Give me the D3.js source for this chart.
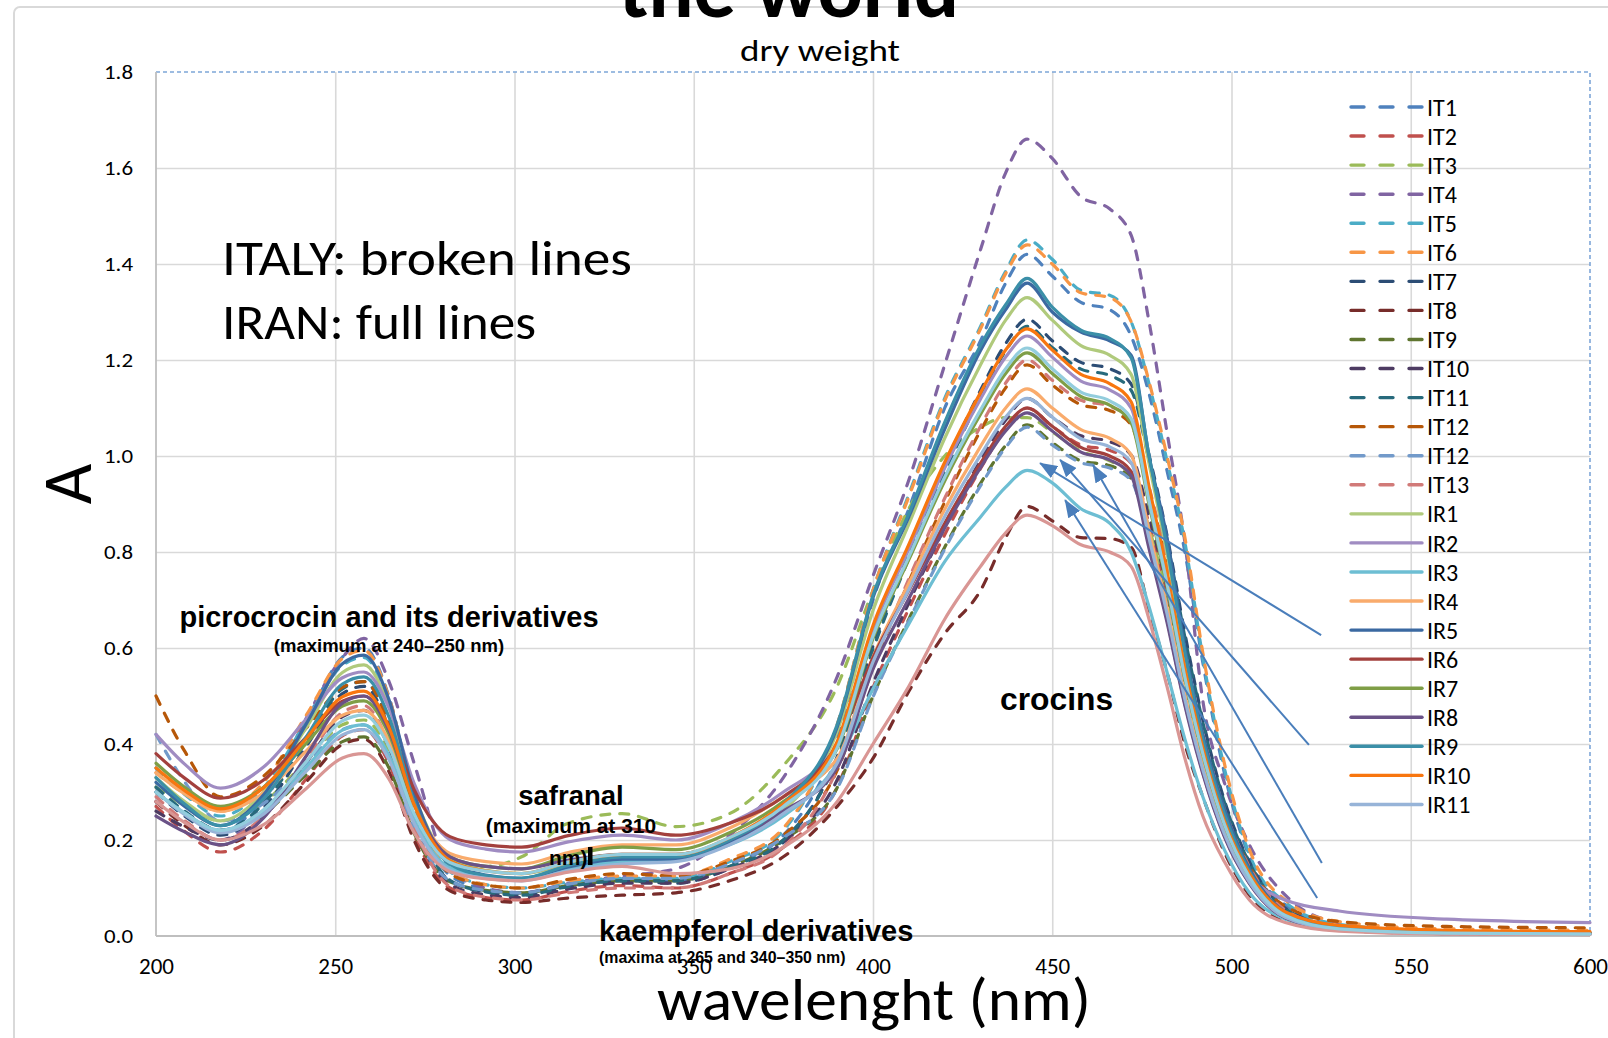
<!DOCTYPE html>
<html>
<head>
<meta charset="utf-8">
<script src="https://cdn.jsdelivr.net/npm/d3@7"></script>
<style>
  body { margin: 0; background: #fff; }
  svg { display: block; }
  .calib { font-family: Carlito, Lato, "Open Sans", sans-serif; fill: #000; }
  .note { font-family: "Liberation Sans", Arial, sans-serif; font-weight: bold; fill: #000; }
</style>
</head>
<body>
<script>
// wavelength grid (nm) the values below were read at
const wavelengths = [200, 208, 218, 230, 242, 252, 258, 265, 272, 282, 292, 302, 315, 330, 345, 360, 375, 390, 400, 410,
                     420, 430, 437, 443, 450, 458, 466, 472, 477, 482, 487, 492, 498, 505, 515, 530, 560, 600];

// Italian samples (broken lines)
const IT1  = [.30,.256,.22,.288,.448,.581,.60,.498,.284,.126,.098,.09,.108,.12,.115,.15,.21,.41,.70,.89,1.10,1.24,1.36,1.42,1.375,1.32,1.305,1.25,1.13,.97,.80,.57,.34,.165,.065,.022,.01,.007];
const IT2  = [.27,.218,.175,.221,.328,.417,.43,.359,.21,.10,.08,.075,.093,.105,.10,.13,.185,.31,.517,.682,.836,.974,1.056,1.10,1.062,1.023,1.012,.985,.858,.715,.539,.385,.242,.132,.05,.017,.007,.005];
const IT3  = [.31,.272,.24,.278,.366,.44,.45,.386,.252,.155,.145,.165,.235,.255,.228,.255,.355,.52,.72,.89,1.0,1.06,1.08,1.08,1.05,1.01,.99,.96,.85,.71,.54,.385,.24,.13,.048,.016,.007,.005];
const IT4  = [.28,.236,.20,.277,.455,.58,.62,.53,.36,.14,.10,.09,.11,.125,.14,.21,.33,.54,.75,.95,1.19,1.43,1.59,1.66,1.62,1.54,1.515,1.46,1.28,1.05,.82,.49,.32,.19,.085,.028,.012,.008];
const IT5  = [.35,.295,.25,.309,.448,.564,.58,.484,.282,.134,.107,.10,.112,.12,.12,.155,.22,.44,.72,.92,1.12,1.27,1.385,1.45,1.41,1.345,1.335,1.28,1.15,.99,.82,.58,.35,.17,.07,.024,.01,.007];
const IT6  = [.34,.296,.26,.32,.461,.578,.595,.496,.288,.135,.107,.10,.115,.125,.125,.16,.225,.44,.72,.915,1.115,1.265,1.38,1.44,1.40,1.34,1.33,1.28,1.155,1.0,.83,.59,.36,.18,.075,.03,.015,.012];
const IT7  = [.30,.25,.21,.266,.396,.505,.52,.433,.25,.115,.092,.085,.103,.115,.11,.14,.195,.373,.604,.797,.977,1.137,1.234,1.285,1.24,1.195,1.182,1.15,1.002,.835,.63,.45,.283,.154,.058,.019,.008,.005];
const IT8  = [.28,.23,.19,.23,.322,.399,.41,.342,.199,.094,.075,.07,.079,.085,.09,.115,.165,.27,.37,.51,.63,.72,.83,.895,.865,.83,.828,.81,.68,.55,.40,.29,.175,.085,.03,.012,.005,.004];
const IT9  = [.30,.256,.22,.255,.337,.405,.415,.35,.214,.113,.095,.09,.105,.115,.115,.145,.20,.309,.50,.66,.81,.943,1.022,1.065,1.028,.99,.98,.953,.831,.692,.522,.373,.234,.128,.048,.016,.007,.005];
const IT10 = [.26,.227,.20,.249,.362,.457,.47,.392,.228,.107,.086,.08,.098,.11,.11,.14,.195,.325,.526,.694,.851,.991,1.075,1.12,1.081,1.042,1.03,1.002,.874,.728,.549,.392,.246,.134,.05,.017,.007,.005];
const IT11 = [.31,.26,.22,.276,.406,.515,.53,.441,.254,.116,.092,.085,.103,.115,.115,.145,.20,.368,.597,.787,.965,1.124,1.219,1.27,1.226,1.181,1.168,1.137,.991,.826,.622,.445,.279,.152,.057,.019,.008,.005];
const IT12 = [.50,.385,.29,.333,.434,.518,.53,.444,.263,.13,.106,.10,.118,.13,.125,.155,.21,.345,.559,.738,.904,1.053,1.142,1.19,1.148,1.107,1.095,1.065,.928,.774,.583,.417,.262,.145,.062,.03,.02,.017];
const IT12b = [.42,.321,.24,.276,.36,.43,.44,.37,.223,.115,.095,.09,.108,.12,.12,.15,.205,.307,.498,.657,.806,.938,1.018,1.06,1.023,.986,.975,.949,.827,.689,.519,.371,.233,.127,.048,.016,.007,.005];
const IT13 = [.29,.24,.20,.25,.368,.466,.48,.399,.229,.103,.081,.075,.09,.10,.10,.13,.185,.348,.564,.744,.912,1.062,1.152,1.20,1.158,1.116,1.104,1.074,.936,.78,.588,.42,.264,.144,.054,.018,.007,.005];

// Iranian samples (full lines)
const IR1  = [.33,.28,.24,.30,.435,.549,.565,.478,.295,.16,.137,.13,.148,.16,.16,.195,.26,.426,.678,.858,1.037,1.19,1.283,1.33,1.283,1.23,1.21,1.17,.984,.798,.585,.412,.253,.133,.047,.016,.006,.005];
const IR2  = [.42,.358,.308,.352,.453,.538,.55,.475,.318,.201,.181,.175,.196,.21,.20,.235,.30,.40,.638,.806,.975,1.119,1.206,1.25,1.206,1.156,1.138,1.10,.925,.75,.55,.388,.238,.131,.075,.052,.035,.028];
const IR3  = [.30,.256,.22,.26,.352,.429,.44,.376,.242,.142,.125,.12,.141,.155,.16,.19,.25,.36,.515,.65,.78,.873,.935,.97,.944,.89,.86,.80,.686,.55,.41,.29,.18,.09,.035,.012,.005,.004];
const IR4  = [.34,.296,.26,.298,.386,.46,.47,.406,.272,.172,.155,.15,.174,.19,.19,.225,.29,.37,.581,.735,.889,1.02,1.10,1.14,1.10,1.055,1.037,1.003,.844,.684,.502,.353,.217,.114,.04,.014,.006,.005];
const IR5  = [.32,.27,.23,.294,.443,.567,.585,.492,.297,.153,.127,.12,.144,.16,.16,.195,.27,.435,.705,.873,1.056,1.22,1.305,1.36,1.30,1.258,1.24,1.21,1.0,.83,.60,.42,.265,.14,.05,.016,.007,.005];
const IR6  = [.38,.329,.287,.325,.415,.489,.50,.437,.305,.207,.19,.185,.209,.225,.21,.235,.29,.40,.58,.72,.86,.985,1.062,1.10,1.062,1.018,1.0,.968,.814,.66,.484,.341,.209,.11,.038,.013,.006,.005];
const IR7  = [.36,.31,.27,.31,.402,.479,.49,.42,.273,.165,.145,.14,.167,.185,.18,.215,.28,.39,.62,.784,.948,1.087,1.172,1.215,1.172,1.124,1.106,1.069,.899,.729,.535,.377,.231,.122,.043,.015,.006,.005];
const IR8  = [.25,.217,.19,.246,.376,.485,.50,.428,.277,.165,.145,.14,.158,.17,.17,.20,.26,.35,.556,.703,.85,.976,1.052,1.09,1.052,1.008,.992,.959,.807,.654,.48,.338,.207,.109,.038,.013,.005,.004];
const IR9  = [.33,.275,.23,.286,.416,.525,.54,.456,.28,.149,.126,.12,.147,.165,.165,.20,.275,.44,.71,.88,1.07,1.23,1.315,1.37,1.31,1.262,1.245,1.205,1.0,.81,.59,.41,.255,.135,.048,.016,.007,.005];
const IR10 = [.35,.303,.265,.309,.412,.498,.51,.434,.274,.157,.136,.13,.154,.17,.17,.205,.275,.405,.647,.816,.987,1.132,1.221,1.265,1.221,1.17,1.151,1.113,.936,.759,.557,.392,.24,.13,.05,.022,.012,.009];
const IR11 = [.30,.253,.215,.254,.344,.419,.43,.367,.235,.137,.12,.115,.136,.15,.155,.19,.255,.36,.571,.722,.874,1.002,1.081,1.12,1.081,1.036,1.019,.986,.829,.672,.493,.347,.213,.112,.039,.013,.005,.004];
// two more full lines drawn in the chart but cut off from its legend
const IR12 = [.28,.236,.20,.232,.308,.371,.38,.327,.215,.134,.119,.115,.133,.145,.13,.14,.185,.28,.40,.52,.66,.77,.84,.877,.855,.815,.80,.77,.66,.52,.37,.25,.155,.075,.028,.01,.004,.003];
const IR13 = [.30,.256,.22,.263,.364,.448,.46,.394,.255,.153,.135,.13,.154,.17,.17,.205,.27,.392,.625,.79,.956,1.096,1.182,1.225,1.182,1.133,1.115,1.078,.906,.735,.539,.38,.233,.123,.043,.015,.006,.004];

const seriesNames = ["IT1","IT2","IT3","IT4","IT5","IT6","IT7","IT8","IT9","IT10","IT11","IT12","IT12","IT13",
                     "IR1","IR2","IR3","IR4","IR5","IR6","IR7","IR8","IR9","IR10","IR11","IR12","IR13"];
const seriesValues = [IT1, IT2, IT3, IT4, IT5, IT6, IT7, IT8, IT9, IT10, IT11, IT12, IT12b, IT13,
                      IR1, IR2, IR3, IR4, IR5, IR6, IR7, IR8, IR9, IR10, IR11, IR12, IR13];
const legendCount = 25;

const xTickValues = [200, 250, 300, 350, 400, 450, 500, 550, 600];
const yTickValues = [0, 0.2, 0.4, 0.6, 0.8, 1.0, 1.2, 1.4, 1.6, 1.8];

// arrows pointing at the crocin shoulders: [tail, head] in (nm, A)
const arrowTails = [[525.0, 0.627], [521.6, 0.398], [525.2, 0.152], [523.9, 0.079]];
const arrowHeads = [[446.6, 0.985], [452.2, 0.992], [461.4, 0.981], [453.6, 0.908]];

// styles
const lineColors = ["#4F81BD","#C0504D","#9BBB59","#8064A2","#4BACC6","#F79646","#2C4D75","#772C2A","#5F7530","#4D3B62",
                    "#276A7C","#B65708","#729ACA","#D17A78",
                    "#B0CA7C","#A08CC2","#6DBED3","#F9AB6C","#3B69A1","#A3403D","#7F9E46","#6A5287","#3B8FA8","#F8760F",
                    "#97B4D8","#D99694","#93CDDD"];

const W = 1608, H = 1038;
const margin = {top: 72, right: 18, bottom: 102, left: 156};
const width = W - margin.left - margin.right;
const height = H - margin.top - margin.bottom;

const series = seriesNames.map(function(name, i) {
  return {name: name, color: lineColors[i], dashed: name.indexOf("IT") === 0,
          points: wavelengths.map(function(w, j) { return [w, seriesValues[i][j]]; })};
});

var xScale = d3.scaleLinear().domain([200, 600]).range([0, width]);
var yScale = d3.scaleLinear().domain([0, 1.8]).range([height, 0]);

var svg = d3.select("body").append("svg")
    .attr("width", W)
    .attr("height", H);

// outer chart frame (only its left and top edges are in the picture)
svg.append("rect")
    .attr("x", 14).attr("y", 7)
    .attr("width", W + 40).attr("height", H + 40)
    .attr("rx", 6)
    .attr("fill", "none").attr("stroke", "#D9D9D9").attr("stroke-width", 2);

var g = svg.append("g")
    .attr("transform", "translate(" + margin.left + "," + margin.top + ")");

// gridlines
g.append("g")
    .attr("class", "grid")
    .call(d3.axisLeft(yScale).tickValues(yTickValues.slice(1, -1)).tickSize(-width).tickFormat(""))
    .call(function(s) { s.select(".domain").remove(); })
    .selectAll("line").attr("stroke", "#D9D9D9").attr("stroke-width", 1.6);

g.append("g")
    .attr("class", "grid")
    .attr("transform", "translate(0," + height + ")")
    .call(d3.axisBottom(xScale).tickValues(xTickValues.slice(1, -1)).tickSize(-height).tickFormat(""))
    .call(function(s) { s.select(".domain").remove(); })
    .selectAll("line").attr("stroke", "#D9D9D9").attr("stroke-width", 1.6);

// plot area border, dashed on top and right
g.append("path")
    .attr("d", "M0,0H" + width + "V" + height)
    .attr("fill", "none")
    .attr("stroke", "#7EA6D8")
    .attr("stroke-width", 1.6)
    .attr("stroke-dasharray", "4,3");

// axis lines
g.append("line").attr("x1", 0).attr("x2", 0).attr("y1", 0).attr("y2", height)
    .attr("stroke", "#BFBFBF").attr("stroke-width", 1.8);
g.append("line").attr("x1", 0).attr("x2", width).attr("y1", height).attr("y2", height)
    .attr("stroke", "#BFBFBF").attr("stroke-width", 1.8);

// tick labels
var yAxis = g.append("g")
    .call(d3.axisLeft(yScale).tickValues(yTickValues).tickSize(0).tickPadding(23).tickFormat(d3.format(".1f")));
yAxis.select(".domain").remove();
yAxis.selectAll("text").attr("class", "calib").style("font-size", "21px")
    .attr("textLength", 29).attr("lengthAdjust", "spacingAndGlyphs");

var xAxis = g.append("g")
    .attr("transform", "translate(0," + height + ")")
    .call(d3.axisBottom(xScale).tickValues(xTickValues).tickSize(0).tickFormat(d3.format("d")));
xAxis.select(".domain").remove();
xAxis.selectAll("text").attr("class", "calib").attr("y", 38).attr("dy", null).style("font-size", "23px");

// spectra
var line = d3.line()
    .x(function(d) { return xScale(d[0]); })
    .y(function(d) { return yScale(d[1]); })
    .curve(d3.curveMonotoneX);

g.selectAll(".spectrum")
    .data(series)
    .enter().append("path")
    .attr("class", "spectrum")
    .attr("d", function(d) { return line(d.points); })
    .attr("fill", "none")
    .attr("stroke", function(d) { return d.color; })
    .attr("stroke-width", 3.2)
    .attr("stroke-linecap", "round")
    .attr("stroke-dasharray", function(d) { return d.dashed ? "9,10" : null; });

// arrows
var defs = svg.append("defs");
defs.append("marker")
    .attr("id", "arrowHead")
    .attr("markerUnits", "userSpaceOnUse")
    .attr("viewBox", "0 0 18 14")
    .attr("markerWidth", 18).attr("markerHeight", 14)
    .attr("refX", 17).attr("refY", 7)
    .attr("orient", "auto")
    .append("path").attr("d", "M0,0L18,7L0,14Z").attr("fill", "#4A7EBB");

g.selectAll(".arrow")
    .data(arrowTails)
    .enter().append("line")
    .attr("class", "arrow")
    .attr("x1", function(d) { return xScale(d[0]); })
    .attr("y1", function(d) { return yScale(d[1]); })
    .attr("x2", function(d, i) { return xScale(arrowHeads[i][0]); })
    .attr("y2", function(d, i) { return yScale(arrowHeads[i][1]); })
    .attr("stroke", "#4A7EBB")
    .attr("stroke-width", 2)
    .attr("marker-end", "url(#arrowHead)");

// legend
var legend = svg.append("g").attr("transform", "translate(1351,107)");
var rows = legend.selectAll(".row")
    .data(series.slice(0, legendCount))
    .enter().append("g")
    .attr("class", "row")
    .attr("transform", function(d, i) { return "translate(0," + (i * 29.06) + ")"; });
rows.append("line")
    .attr("x1", 0).attr("x2", 71)
    .attr("stroke", function(d) { return d.color; })
    .attr("stroke-width", 3.4)
    .attr("stroke-linecap", "round")
    .attr("stroke-dasharray", function(d) { return d.dashed ? "13,16" : null; });
rows.append("text")
    .attr("class", "calib")
    .attr("x", 76)
    .attr("dy", "0.36em")
    .style("font-size", "24px")
    .text(function(d) { return d.name; });

// titles
svg.append("text").attr("class", "calib")
    .attr("x", 789).attr("y", 17).attr("text-anchor", "middle")
    .attr("textLength", 340).attr("lengthAdjust", "spacingAndGlyphs")
    .style("font-size", "85px").style("font-weight", "bold")
    .text("the world");
svg.append("text").attr("class", "calib")
    .attr("x", 820).attr("y", 61).attr("text-anchor", "middle")
    .attr("textLength", 160).attr("lengthAdjust", "spacingAndGlyphs")
    .style("font-size", "31px")
    .text("dry weight");
svg.append("text").attr("class", "calib")
    .attr("x", 874).attr("y", 1020).attr("text-anchor", "middle")
    .attr("textLength", 434).attr("lengthAdjust", "spacingAndGlyphs")
    .style("font-size", "60px")
    .text("wavelenght (nm)");
svg.append("text").attr("class", "calib")
    .attr("transform", "translate(66,484) rotate(-90)")
    .attr("text-anchor", "middle").attr("dy", "0.36em")
    .style("font-size", "70px")
    .text("A");

svg.append("text").attr("class", "calib")
    .attr("x", 222).attr("y", 275)
    .attr("textLength", 410).attr("lengthAdjust", "spacingAndGlyphs")
    .style("font-size", "50px")
    .text("ITALY: broken lines");
svg.append("text").attr("class", "calib")
    .attr("x", 222).attr("y", 339)
    .attr("textLength", 314).attr("lengthAdjust", "spacingAndGlyphs")
    .style("font-size", "50px")
    .text("IRAN: full lines");

// band annotations
function note(txt, x, y, size, anchor) {
  svg.append("text").attr("class", "note")
      .attr("x", x).attr("y", y)
      .attr("text-anchor", anchor || "start")
      .style("font-size", size + "px")
      .text(txt);
}
note("picrocrocin and its derivatives", 389, 627, 29, "middle");
note("(maximum at 240\u2013250 nm)", 389, 652, 18.5, "middle");
note("safranal", 571, 805, 27.5, "middle");
note("(maximum at 310", 571, 833, 21, "middle");
note("nm)", 549, 865, 21);
svg.append("rect").attr("x", 588).attr("y", 847).attr("width", 4.5).attr("height", 18).attr("fill", "#000");
note("kaempferol derivatives", 599, 941, 29);
note("(maxima at 265 and 340\u2013350 nm)", 599, 963, 15.9);
note("crocins", 1000, 710, 31.8);
</script>
</body>
</html>
